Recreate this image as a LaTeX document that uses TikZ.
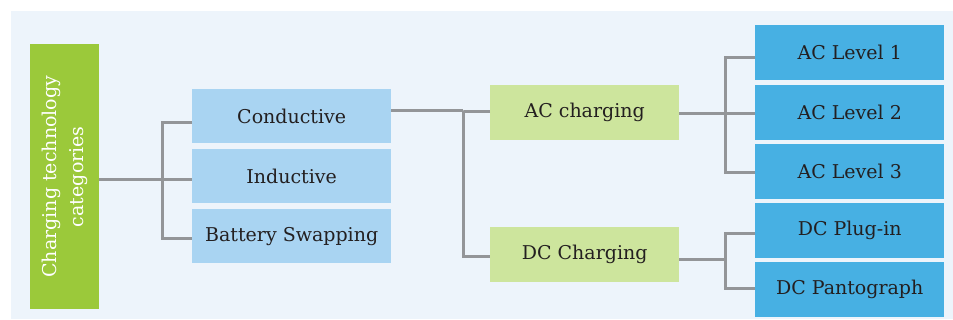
\documentclass[tikz,border=0pt]{standalone}
\usepackage{fontspec}
\setmainfont{DejaVu Serif}
\definecolor{bgc}{HTML}{EDF4FB}
\definecolor{catg}{HTML}{9BC93A}
\definecolor{lgreen}{HTML}{CDE59D}
\definecolor{lblue}{HTML}{A9D4F2}
\definecolor{dblue}{HTML}{47B0E3}
\definecolor{linec}{HTML}{939598}
\definecolor{txt}{HTML}{231F20}
\begin{document}
\begin{tikzpicture}[x=1pt,y=-1pt,
  boxbase/.style={anchor=north west, inner sep=0pt, text=txt,
    font=\fontsize{19}{24}\selectfont},
  lbox/.style={boxbase, fill=lblue, minimum width=199pt, minimum height=54pt},
  gbox/.style={boxbase, fill=lgreen, minimum width=189pt, minimum height=55pt},
  dbox/.style={boxbase, fill=dblue, minimum width=189pt, minimum height=55pt},
  conn/.style={draw=linec, line width=3pt}]
\useasboundingbox (0,0) rectangle (953,320);
\fill[white] (0,0) rectangle (953,320);
\fill[bgc] (11,11) rectangle (953,319);
% category box
\node[anchor=north west, fill=catg, minimum width=69pt, minimum height=265pt, inner sep=0pt] (cat) at (30,44) {};
\node[rotate=90, text=white, align=center, font=\fontsize{19}{27}\selectfont] (catt) at (cat.center) {Charging technology\\categories};
% second level
\node[lbox] (cond) at (192,89) {Conductive};
\node[lbox] (ind) at (192,149) {Inductive};
\node[lbox] (bat) at (192,209) {Battery Swapping};
% third level
\node[gbox] (ac) at (490,85) {AC charging};
\node[gbox] (dc) at (490,227) {DC Charging};
% fourth level
\node[dbox] (ac1) at (755,25) {AC Level 1};
\node[dbox] (ac2) at (755,85) {AC Level 2};
\node[dbox] (ac3) at (755,144) {AC Level 3};
\node[dbox] (dcp) at (755,203) {DC Plug-in};
\node[dbox] (dcg) at (755,262) {DC Pantograph};
% connectors
\coordinate (j1) at (162,180);
\draw[conn] (cat.east |- j1) -- (j1);
\draw[conn] ([yshift=-6pt]cond.west) -| (j1) |- ([yshift=-2pt]bat.west);
\draw[conn] (j1) -- (j1 -| ind.west);
\coordinate (j2) at (463,111);
\draw[conn] (cond.east |- j2) -- (j2);
\draw[conn] ([yshift=1.5pt]ac.west) -| (j2) |- ([yshift=-1.5pt]dc.west);
\coordinate (j3) at (725,114);
\draw[conn] (ac.east |- j3) -- (j3);
\draw[conn] ([yshift=-4.5pt]ac1.west) -| (j3) |- ([yshift=-0.5pt]ac3.west);
\draw[conn] (j3) -- (j3 -| ac2.west);
\coordinate (j4) at (725,260);
\draw[conn] (dc.east |- j4) -- (j4);
\draw[conn] ([yshift=-2.5pt]dcp.west) -| (j4) |- ([yshift=1.5pt]dcg.west);
\end{tikzpicture}
\end{document}
